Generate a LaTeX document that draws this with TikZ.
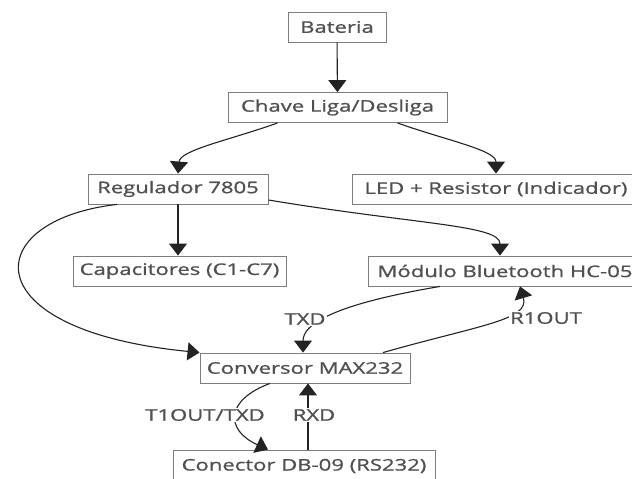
\documentclass[tikz,border=0pt]{standalone}
\usepackage{fontspec}
\setmainfont[FakeStretch=1.38, FakeBold=1]{Open Sans}
\usetikzlibrary{arrows.meta, calc}
\definecolor{boxline}{RGB}{125,125,125}
\definecolor{boxtext}{RGB}{80,80,80}
\definecolor{wire}{RGB}{35,35,35}
\tikzset{
  blockbox/.style={
    rectangle, draw=boxline, line width=0.9pt,
    fill=white, text=boxtext,
    font=\fontsize{16}{19}\selectfont,
    minimum height=30pt, inner sep=0pt
  },
  wirearrow/.style={
    -{Triangle[length=12pt, width=18pt]}, draw=wire, line width=1.1pt
  },
  wirelabel/.style={
    fill=white, text=boxtext, inner sep=1pt,
    font=\fontsize{16}{19}\selectfont
  }
}

\begin{document}
\begin{tikzpicture}[x=1pt, y=-1pt]
  \useasboundingbox (0,0) rectangle (632,479);

  \node[blockbox, minimum width=98pt]  (bat)   at (337,27)    {Bateria};
  \node[blockbox, minimum width=219pt] (chave) at (337.5,107.5) {Chave Liga/Desliga};
  \node[blockbox, minimum width=180pt] (reg)   at (178,189)   {Regulador 7805};
  \node[blockbox, minimum width=288pt] (led)   at (496,189)   {LED + Resistor (Indicador)};
  \node[blockbox, minimum width=213pt] (cap)   at (179.5,271) {Capacitores (C1-C7)};
  \node[blockbox, minimum width=274pt] (mod)   at (505,271)   {Módulo Bluetooth HC-05};
  \node[blockbox, minimum width=210pt] (conv)  at (305,368)   {Conversor MAX232};
  \node[blockbox, minimum width=262pt, minimum height=32pt] (conn) at (304,466) {Conector DB-09 (RS232)};

  \draw[wirearrow] (bat) -- (chave);
  \draw[wirearrow] ($(chave.south)+(-60,0)$) .. controls (230,140) and (180,150) .. (reg.north);
  \draw[wirearrow] ($(chave.south)+(60,0)$) .. controls (445,140) and (496,150) .. (led.north);
  \draw[wirearrow] (reg.south) -- (reg.south |- cap.north);
  \draw[wirearrow] ($(reg.south)+(-61,0)$) .. controls (-20,220) and (-30,330) .. (conv.north west);
  \draw[wirearrow] ($(reg.east)+(0,11)$) .. controls (420,225) and (500,225) .. ($(mod.north)+(-5,0)$);
  \draw[wirearrow] ($(mod.south)+(-65,0)$) .. controls (330,305) and (303,325) .. ($(conv.north)+(-2,0)$);
  \draw[wirearrow] ($(conv.north)+(78,0)$) .. controls (480,325) and (530,320) .. ($(mod.south)+(15,0)$);
  \draw[wirearrow] ($(conv.south)+(-35,0)$) .. controls (225,400) and (225,430) .. ($(conn.north)+(-36,0)$);
  \draw[wirearrow] ($(conn.north)+(4,0)$) -- ($(conv.south)+(3,0)$);

  \node[wirelabel] (txd)   at (305,319) {TXD};
  \node[wirelabel] (r1out) at (546,318) {R1OUT};
  \node[wirelabel] (t1out) at (205,415) {T1OUT/TXD};
  \node[wirelabel] (rxd)   at (314,415) {RXD};
\end{tikzpicture}
\end{document}
